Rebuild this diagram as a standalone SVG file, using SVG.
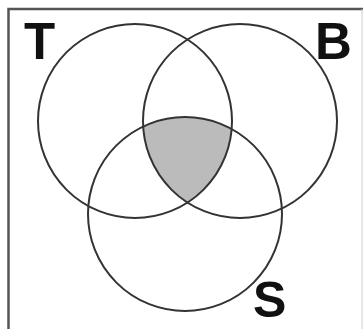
<svg xmlns="http://www.w3.org/2000/svg" width="363" height="329" viewBox="0 0 363 329">
<style>
.c{fill:none;stroke:#333;stroke-width:2}
.lbl{font-family:"Liberation Sans",Arial,sans-serif;font-weight:bold;font-size:51px;fill:#111}
</style>
<defs>
<clipPath id="cT"><circle cx="135" cy="121" r="97"/></clipPath>
<clipPath id="cB"><circle cx="240" cy="121" r="97"/></clipPath>
</defs>
<rect x="0" y="0" width="363" height="329" fill="#fff"/>
<path d="M8.5,340 V9 H363" fill="none" stroke="#555" stroke-width="2.5"/>
<line x1="362" y1="9" x2="362" y2="329" stroke="#ccc" stroke-width="1"/>
<g id="shade">
<g clip-path="url(#cT)"><g clip-path="url(#cB)"><circle cx="185" cy="214" r="97" fill="#bbb"/></g></g>
</g>
<g id="connectors"></g>
<g id="T"><circle class="c" cx="135" cy="121" r="97"/><text class="lbl" x="24" y="59">T</text></g>
<g id="B"><circle class="c" cx="240" cy="121" r="97"/><text class="lbl" x="315" y="59">B</text></g>
<g id="S"><circle class="c" cx="185" cy="214" r="97"/><text class="lbl" x="253" y="317" style="font-size:50px">S</text></g>
</svg>
